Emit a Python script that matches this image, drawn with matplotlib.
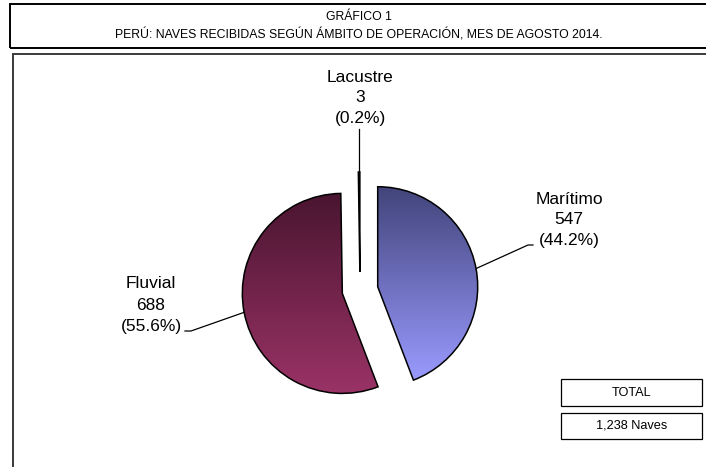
import numpy as np
import matplotlib.pyplot as plt
from matplotlib.patches import Rectangle
from matplotlib.colors import LinearSegmentedColormap

# datos del grafico
categorias = ["Marítimo", "Fluvial", "Lacustre"]
naves = [547, 688, 3]
titulo = ["GRÁFICO 1",
          "PERÚ: NAVES RECIBIDAS SEGÚN ÁMBITO DE OPERACIÓN, MES DE AGOSTO 2014."]

plt.rcParams["font.family"] = ["Liberation Sans", "DejaVu Sans"]

W, H = 706, 467
fig = plt.figure(figsize=(W / 100, H / 100), dpi=100)

def fx(px):
    return px / W

def fy(py):
    return 1 - py / H

# marco del titulo
fig.add_artist(Rectangle((fx(10), fy(48)), fx(710 - 10), (48 - 4) / H,
                         transform=fig.transFigure, fill=False, lw=1.4, ec="black"))
fig.text(fx(359), fy(16.5), titulo[0], ha="center", va="center", fontsize=8.8)
fig.text(fx(359), fy(35.5), titulo[1], ha="center", va="center", fontsize=8.8)

# marco del area del grafico
fig.add_artist(Rectangle((fx(12.5), fy(480)), fx(720), (480 - 54) / H,
                         transform=fig.transFigure, fill=False, lw=1.4, ec="#3a3a3a"))

# pie: centro (360, 290) px, radio 100 px
ax = fig.add_axes([fx(200), 1 - (290 + 160) / H, 320 / W, 320 / H])
explode = [0.18, 0.18, 0.18]
wedges, _ = ax.pie(naves, explode=explode, startangle=90, counterclock=False,
                   radius=1.0, colors=["none"] * 3,
                   wedgeprops=dict(edgecolor="black", linewidth=1.1))
ax.set_aspect("equal")
ax.axis("off")

# degradados verticales
gradientes = [("#42447a", "#9a9aff"), ("#4a1530", "#9a3366"), ("#000000", "#000000")]
for w, (c1, c2) in zip(wedges, gradientes):
    cmap = LinearSegmentedColormap.from_list("g", [c2, c1])
    bb = w.get_path().get_extents(w.get_patch_transform())
    grad = np.linspace(0, 1, 256).reshape(-1, 1)
    im = ax.imshow(grad, cmap=cmap, extent=[bb.x0, bb.x1, bb.y0, bb.y1],
                   origin="lower", aspect="auto", zorder=0.5)
    im.set_clip_path(w)
ax.set_xlim(-1.6, 1.6)
ax.set_ylim(-1.6, 1.6)

# etiquetas
total = sum(naves)
texto_pos = {"Marítimo": (2.09, 0.70), "Fluvial": (-2.09, -0.15), "Lacustre": (0.0, 1.92)}
for w, cat, val in zip(wedges, categorias, naves):
    ang = np.deg2rad((w.theta1 + w.theta2) / 2)
    r = w.r + 0.18
    px, py = r * np.cos(ang), r * np.sin(ang)
    tx, ty = texto_pos[cat]
    lbl = f"{cat}\n{val}\n({val / total * 100:.1f}%)"
    ax.text(tx, ty, lbl, ha="center", va="center", fontsize=12.5,
            linespacing=1.5, clip_on=False)
    if cat == "Lacustre":
        ax.plot([px, px], [py, ty - 0.31], color="black", lw=0.9, clip_on=False)
    elif cat == "Marítimo":
        ex, ey = tx - 0.36, ty - 0.25
        ax.plot([px, ex - 0.05, ex], [py, ey, ey], color="black", lw=0.9, clip_on=False)
    else:
        ex, ey = tx + 0.34, ty - 0.26
        ax.plot([px, ex + 0.06, ex], [py, ey, ey], color="black", lw=0.9, clip_on=False)

# cajas del total
for (y0, y1), txt in zip([(379, 406), (413, 439)], ["TOTAL", f"{total:,} Naves"]):
    fig.add_artist(Rectangle((fx(561), fy(y1)), fx(702 - 561), (y1 - y0) / H,
                             transform=fig.transFigure, fill=False, lw=0.9, ec="black"))
    fig.text(fx((561 + 702) / 2), fy((y0 + y1) / 2), txt, ha="center", va="center",
             fontsize=9.2)

fig.savefig("out.png", dpi=100)
